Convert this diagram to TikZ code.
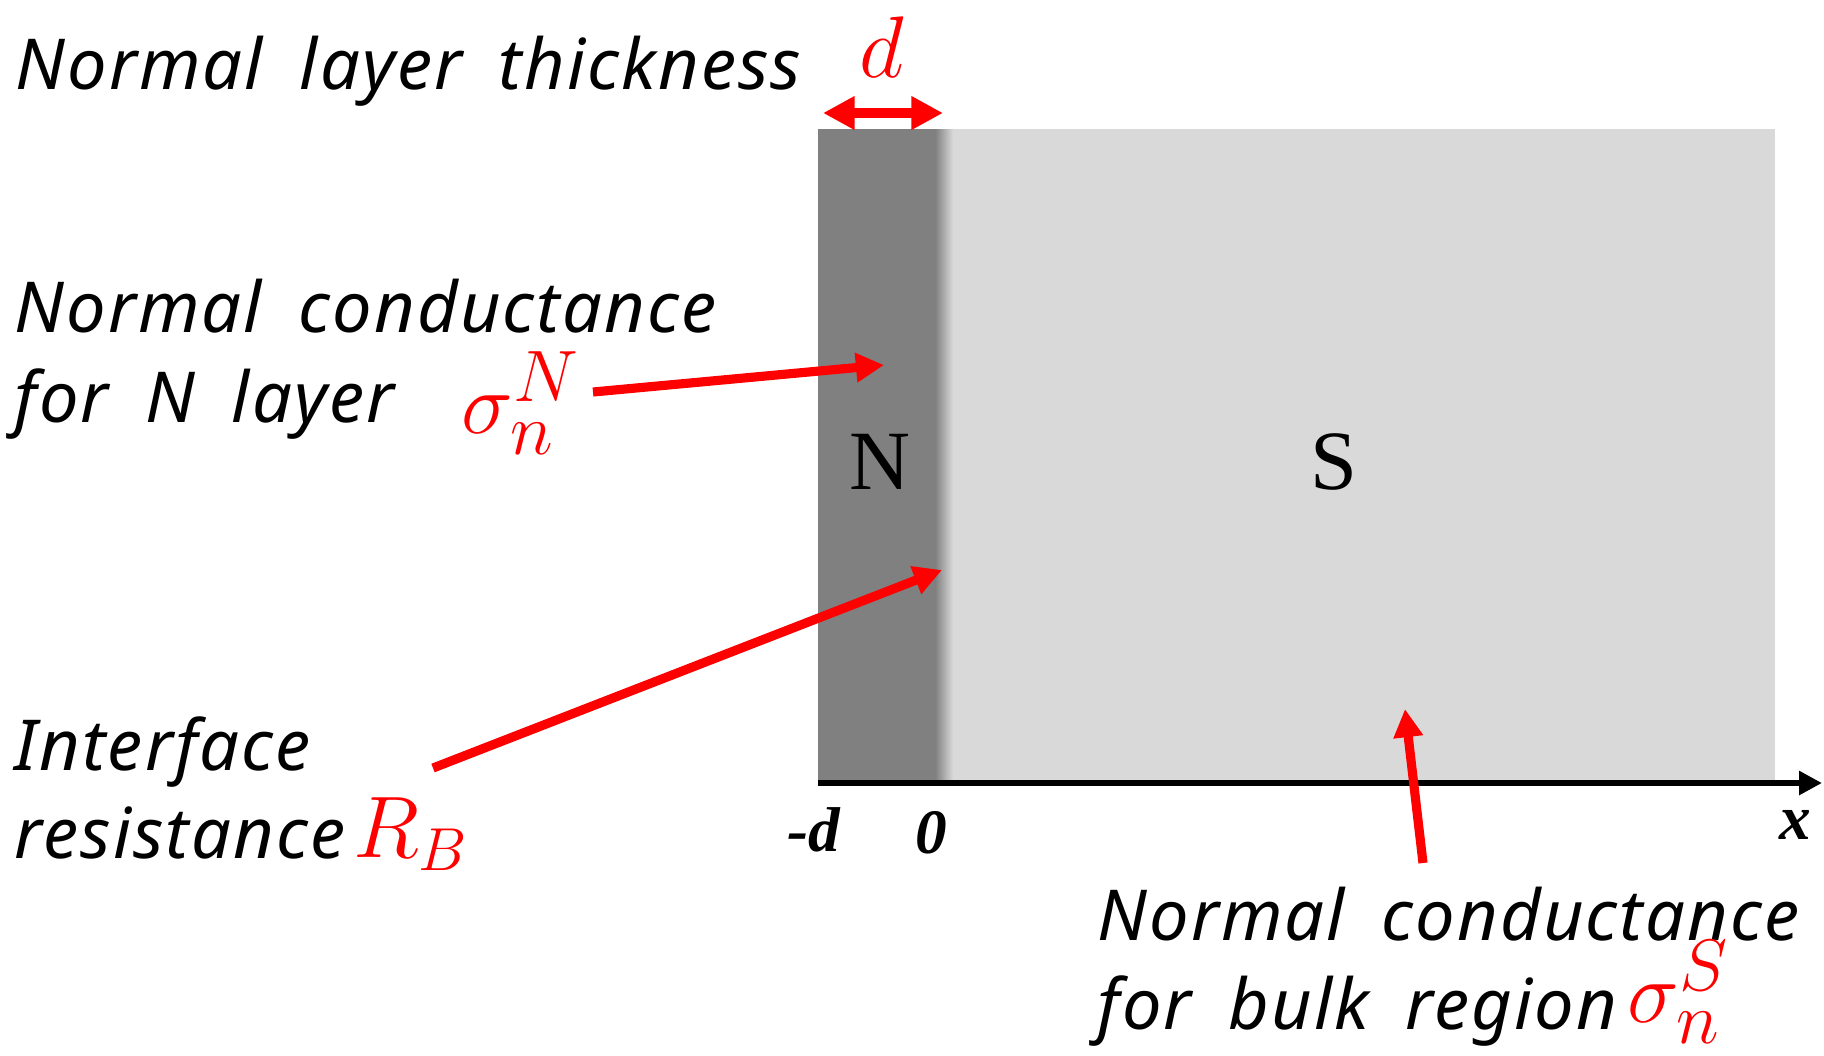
\documentclass[tikz,border=0pt]{standalone}
\usepackage{fontspec}
\setmainfont{Liberation Serif}
\newfontfamily\handfont{Noto Sans}[LetterSpace=3, WordSpace=1.8]
\usetikzlibrary{arrows.meta, positioning}
\definecolor{cdark}{gray}{0.50}
\definecolor{clight}{gray}{0.85}
\tikzset{
  every picture/.style={line width=1pt},
  hand/.style={font=\handfont\itshape\fontsize{20}{24}\selectfont, anchor=base west, inner sep=0pt},
  redarrow/.style={-{Triangle[length=8pt, width=8pt]}, draw=red, line width=2.6pt},
  redsym/.style={text=red, inner sep=0pt, font=\fontsize{30}{32}\selectfont},
  region/.style={font=\fontsize{24}{26}\selectfont, inner sep=0pt},
  tick/.style={font=\bfseries\itshape\fontsize{18}{20}\selectfont, inner sep=0pt},
}
\begin{document}
\begin{tikzpicture}
  \useasboundingbox (0,0) rectangle (18.24,10.55);
  % slab: N layer and bulk S
  \fill[clight] (8.18,2.73) rectangle (17.75,9.26);
  \fill[cdark] (8.18,2.73) rectangle (9.35,9.26);
  \shade[left color=cdark, right color=clight] (9.35,2.73) rectangle (9.53,9.26);
  \node[region] (N) at (8.80,5.93) {N};
  \node[region] (S) at (13.34,5.93) {S};
  % x axis
  \coordinate (o) at (8.18,2.72);
  \coordinate (xend) at (18.22,2.72);
  \draw[line width=1.7pt, -{Triangle[length=6.5pt, width=6.5pt]}] (o) -- (xend);
  \node[tick] (md) at (8.14,2.25) {-d};
  \node[tick] (zero) at (9.31,2.22) {0};
  \node[tick] (xlab) at (17.95,2.30) {x};
  % thickness d
  \coordinate (dl) at (8.23,9.42);
  \coordinate (dr) at (9.43,9.42);
  \draw[{Triangle[length=9pt, width=9pt]}-{Triangle[length=9pt, width=9pt]}, draw=red, line width=2.8pt] (dl) -- (dr);
  \node[redsym, font=\fontsize{34}{36}\selectfont] (dlab) at (8.82,10.08) {$d$};
  % texts
  \node[hand] (t1) at (0.14,9.66) {Normal layer thickness};
  \node[hand] (t2) at (0.13,7.23) {Normal conductance};
  \node[hand] (t3) at (0.13,6.33) {for N layer};
  \node[redsym, anchor=base west] (sigN) at (4.60,6.22) {$\sigma_n^N$};
  \node[hand] (t4) at (0.13,2.85) {Interface};
  \node[hand] (t5) at (0.13,1.97) {resistance};
  \node[redsym, anchor=base west, font=\fontsize{27}{29}\selectfont] (RB) at (3.52,1.98) {$R_B$};
  \node[hand] (t6) at (10.96,1.15) {Normal conductance};
  \node[hand] (t7) at (10.96,0.26) {for bulk region};
  \node[redsym, anchor=base west] (sigS) at (16.26,0.33) {$\sigma_n^S$};
  % pointers
  \coordinate (pN) at (5.93,6.63);
  \coordinate (qN) at (8.84,6.90);
  \coordinate (pB) at (4.33,2.87);
  \coordinate (qB) at (9.42,4.85);
  \coordinate (pS) at (14.23,1.92);
  \coordinate (qS) at (14.05,3.46);
  \draw[redarrow] (pN) -- (qN);
  \draw[redarrow] (pB) -- (qB);
  \draw[redarrow] (pS) -- (qS);
\end{tikzpicture}
\end{document}
